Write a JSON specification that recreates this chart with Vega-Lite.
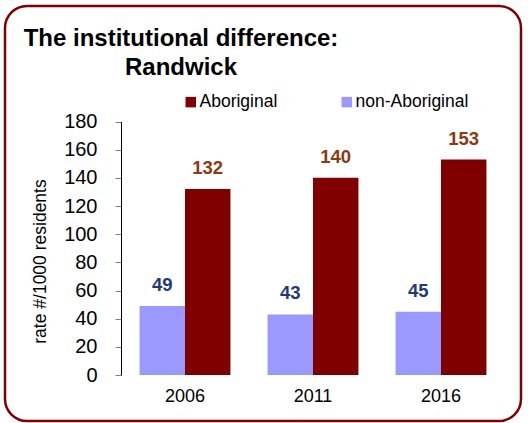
{
  "$schema": "https://vega.github.io/schema/vega-lite/v6.json",
  "width": 516,
  "height": 415,
  "autosize": {"type": "none"},
  "padding": {"left": 5, "top": 6, "right": 7, "bottom": 2},
  "background": "white",
  "title": {
    "text": ["The institutional difference:", "Randwick"],
    "fontSize": 24,
    "fontWeight": "bold",
    "color": "black",
    "font": "Liberation Sans",
    "anchor": "start",
    "align": "center",
    "frame": "group",
    "dx": 176,
    "lineHeight": 29,
    "offset": -74
  },
  "data": {
    "values": [
      {"year": "2006", "group": "non-Aboriginal", "value": 49},
      {"year": "2006", "group": "Aboriginal", "value": 132},
      {"year": "2011", "group": "non-Aboriginal", "value": 43},
      {"year": "2011", "group": "Aboriginal", "value": 140},
      {"year": "2016", "group": "non-Aboriginal", "value": 45},
      {"year": "2016", "group": "Aboriginal", "value": 153}
    ]
  },
  "encoding": {
    "x": {
      "field": "year",
      "type": "nominal",
      "scale": {"range": [116, 500], "paddingInner": 0.29, "paddingOuter": 0.145},
      "axis": {
        "orient": "bottom",
        "offset": -46,
        "domain": false,
        "ticks": false,
        "labelPadding": 12,
        "labelFontSize": 18,
        "labelColor": "black",
        "labelAngle": 0,
        "title": null
      }
    },
    "xOffset": {
      "field": "group",
      "type": "nominal",
      "scale": {"domain": ["non-Aboriginal", "Aboriginal"], "paddingInner": 0, "paddingOuter": 0}
    },
    "y": {
      "field": "value",
      "type": "quantitative",
      "scale": {"domain": [0, 180], "range": [369, 115.5], "nice": false},
      "axis": {
        "orient": "left",
        "offset": -116,
        "values": [0, 20, 40, 60, 80, 100, 120, 140, 160, 180],
        "grid": false,
        "domainColor": "black",
        "domainWidth": 1,
        "tickColor": "#808080",
        "tickSize": 6,
        "labelFontSize": 20,
        "labelColor": "black",
        "labelPadding": 18,
        "title": "rate #/1000 residents",
        "titleFontSize": 17.5,
        "titleFontWeight": "normal",
        "titleColor": "black",
        "titleAngle": -90,
        "titleBaseline": "alphabetic",
        "titleAlign": "center",
        "titleX": -76,
        "titleY": 255
      }
    }
  },
  "layer": [
    {
      "mark": {"type": "bar"},
      "encoding": {
        "color": {
          "field": "group",
          "type": "nominal",
          "scale": {"domain": ["Aboriginal", "non-Aboriginal"], "range": ["#800000", "#9999FF"]},
          "legend": {
            "orient": "none",
            "legendX": 177,
            "legendY": 87,
            "direction": "horizontal",
            "title": null,
            "symbolType": "square",
            "symbolSize": 110,
            "symbolStrokeWidth": 0,
            "labelFontSize": 17.5,
            "labelColor": "black",
            "labelOffset": 0,
            "columnPadding": 60,
            "padding": 0
          }
        }
      }
    },
    {
      "mark": {"type": "text", "dy": -15, "baseline": "alphabetic", "fontSize": 18.5, "fontWeight": "bold"},
      "encoding": {
        "text": {"field": "value", "type": "quantitative"},
        "color": {
          "condition": {"test": "datum.group === 'Aboriginal'", "value": "#8B3A12"},
          "value": "#1F3A7A"
        }
      }
    }
  ],
  "config": {
    "font": "Liberation Sans",
    "view": {"stroke": "#800000", "strokeWidth": 2.5, "cornerRadius": 22},
    "axis": {"labelFont": "Liberation Sans", "titleFont": "Liberation Sans"},
    "legend": {"labelFont": "Liberation Sans"}
  }
}
